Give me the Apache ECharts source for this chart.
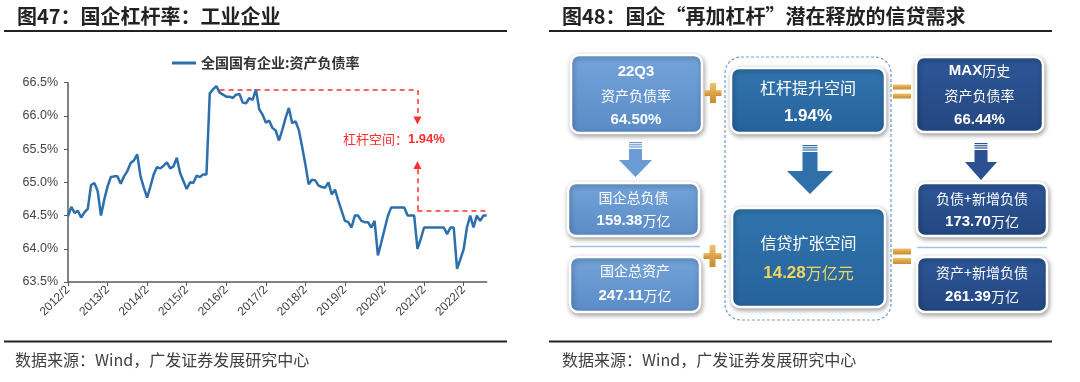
<!DOCTYPE html>
<html>
<head>
<meta charset="utf-8">
<script src="https://cdn.jsdelivr.net/npm/echarts@6/dist/echarts.min.js"></script>
<style>
html,body{margin:0;padding:0;background:#fff;}
#c{width:1080px;height:382px;}
</style>
</head>
<body>
<div id="c"></div>
<script>
// ---------- data ----------
const seriesName = '全国国有企业:资产负债率';
const startYear = 2012, startMonth = 2, pointCount = 128; // 2012/2 .. 2022/9 monthly
const debtRatio = [
64.49,64.63,64.54,64.57,64.47,64.55,64.60,64.96,64.99,64.87,64.50,64.74,
64.94,65.08,65.09,65.09,64.98,65.09,65.17,65.29,65.33,65.42,65.09,64.92,
64.77,64.94,65.12,65.23,65.21,65.25,65.30,65.21,65.24,65.37,65.14,65.02,
64.90,65.00,64.99,65.10,65.08,65.12,65.12,66.34,66.40,66.45,66.35,66.32,
66.29,66.29,66.27,66.32,66.33,66.20,66.19,66.27,66.24,66.40,66.10,66.02,
65.90,65.93,65.82,65.78,65.63,65.79,65.97,66.12,65.89,65.92,65.79,65.54,
65.27,64.97,65.04,65.03,64.95,64.93,64.92,65.00,64.82,64.89,64.72,64.57,
64.42,64.40,64.32,64.50,64.50,64.42,64.40,64.40,64.32,64.42,63.90,64.09,
64.29,64.49,64.62,64.62,64.62,64.62,64.62,64.50,64.50,64.50,64.00,64.15,
64.32,64.32,64.32,64.32,64.32,64.32,64.32,64.22,64.32,64.32,63.70,63.84,
63.99,64.32,64.50,64.32,64.50,64.42,64.50,64.50
];
const yTicks = [63.5, 66.5, 0.5]; // min, max, interval
// annotation (leverage space)
const peakLevel = 66.39, currentLevel = 64.58;
const annoStartIdx = 46, annoIdx = 106;
const arrowDownTip = 65.93, arrowUpTip = 65.26;
const annoLabel = '杠杆空间：', annoValue = '1.94%';

// right diagram texts
const rateNow = '64.50%', rateLabel = '资产负债率', quarter = '22Q3';
const leverSpaceLabel = '杠杆提升空间', leverSpace = '1.94%';
const maxLabel = '历史', maxRate = '66.44%';
const debtLabel = '国企总负债', totalDebt = '159.38';
const assetLabel = '国企总资产', totalAsset = '247.11';
const creditLabel = '信贷扩张空间', creditSpace = '14.28';
const newDebtLabel = '负债+新增负债', newDebt = '173.70';
const newAssetLabel = '资产+新增负债', newAsset = '261.39';
const unitWanYi = '万亿', unitWanYiYuan = '万亿元';

const title1 = '图47：国企杠杆率：工业企业';
const title2 = '图48：国企“再加杠杆”潜在释放的信贷需求';
const source = '数据来源：Wind，广发证券发展研究中心';

// ---------- build ----------
const months = [];
for (let i = 0; i < pointCount; i++) {
  const t = startMonth - 1 + i;
  months.push((startYear + Math.floor(t / 12)) + '/' + (t % 12 + 1));
}

const CJK = 'Noto Sans CJK SC';
const LAT = 'Liberation Sans';

const light = {type:'linear',x:0,y:0,x2:0,y2:1,colorStops:[{offset:0,color:'#74a4d9'},{offset:1,color:'#5a8bc6'}]};
const mid = {type:'linear',x:0,y:0,x2:0,y2:1,colorStops:[{offset:0,color:'#3175ae'},{offset:1,color:'#26629b'}]};
const navy = {type:'linear',x:0,y:0,x2:0,y2:1,colorStops:[{offset:0,color:'#2e5798'},{offset:1,color:'#23467f'}]};
const gold = {type:'linear',x:0,y:0,x2:0,y2:1,colorStops:[{offset:0,color:'#f0c46e'},{offset:0.5,color:'#dba24a'},{offset:1,color:'#c98d30'}]};

const rich = {
  c: {fontFamily: CJK, fontSize: 14, fill: '#fff'},
  cl: {fontFamily: CJK, fontSize: 16, fill: '#fff'},
  n: {fontFamily: LAT, fontWeight: 'bold', fontSize: 15, fill: '#fff'},
  nl: {fontFamily: LAT, fontWeight: 'bold', fontSize: 17, fill: '#fff'},
  y: {fontFamily: LAT, fontWeight: 'bold', fontSize: 17, fill: '#f3d55b'},
  yc: {fontFamily: CJK, fontSize: 16, fill: '#f3d55b'}
};

function box(x, y, w, h, fill) {
  return {type:'rect', shape:{x:x, y:y, width:w, height:h, r:8},
    style:{fill:fill, stroke:'#ffffff', lineWidth:2.5, shadowBlur:5, shadowOffsetX:1, shadowOffsetY:2, shadowColor:'rgba(0,0,0,0.35)'}};
}
function txt(x, y, text) {
  return {type:'text', x:x, y:y, style:{text:text, rich:rich, fill:'#fff', align:'center', verticalAlign:'middle'}};
}
function arrow(cx, top, shaftW, shaftEnd, headW, tip, fill) {
  const els = [];
  for (let k = 0; k < 3; k++) {
    els.push({type:'rect', shape:{x:cx - shaftW/2, y:top + k*2.2, width:shaftW, height:1.2}, style:{fill:fill}});
  }
  els.push({type:'polygon', shape:{points:[
    [cx - shaftW/2, top + 7], [cx + shaftW/2, top + 7], [cx + shaftW/2, shaftEnd],
    [cx + headW/2, shaftEnd], [cx, tip], [cx - headW/2, shaftEnd], [cx - shaftW/2, shaftEnd]
  ]}, style:{fill:fill}});
  return els;
}
function plus(cx, cy, w, h, t) {
  return [
    {type:'rect', shape:{x:cx - w/2, y:cy - t/2, width:w, height:t}, style:{fill:gold}},
    {type:'rect', shape:{x:cx - t/2, y:cy - h/2, width:t, height:h}, style:{fill:gold}}
  ];
}
function equals(cx, y1, y2, w, t) {
  return [
    {type:'rect', shape:{x:cx - w/2, y:y1, width:w, height:t}, style:{fill:gold}},
    {type:'rect', shape:{x:cx - w/2, y:y2, width:w, height:t}, style:{fill:gold}}
  ];
}

const graphics = [
  // titles
  {type:'text', x:17, y:16, style:{text:title1, fontFamily:CJK, fontWeight:'bold', fontSize:20, fill:'#222', verticalAlign:'middle'}},
  {type:'text', x:562, y:16, style:{text:title2, fontFamily:CJK, fontWeight:'bold', fontSize:20, fill:'#222', verticalAlign:'middle'}},
  {type:'line', shape:{x1:4, y1:31, x2:507, y2:31}, style:{stroke:'#222', lineWidth:2}},
  {type:'line', shape:{x1:549, y1:31, x2:1052, y2:31}, style:{stroke:'#222', lineWidth:2}},
  {type:'line', shape:{x1:4, y1:341.5, x2:507, y2:341.5}, style:{stroke:'#222', lineWidth:2}},
  {type:'line', shape:{x1:549, y1:341.5, x2:1052, y2:341.5}, style:{stroke:'#222', lineWidth:2}},
  {type:'text', x:15, y:360, style:{text:source, fontFamily:CJK, fontSize:16, fill:'#404040', verticalAlign:'middle'}},
  {type:'text', x:562, y:360, style:{text:source, fontFamily:CJK, fontSize:16, fill:'#404040', verticalAlign:'middle'}},
  // annotation label
  {type:'text', x:343, y:139, style:{text:'{a|' + annoLabel + '}{b|' + annoValue + '}', fill:'#ff3030', verticalAlign:'middle',
    rich:{a:{fontFamily:CJK, fontSize:13, fill:'#ff3030'}, b:{fontFamily:LAT, fontWeight:'bold', fontSize:13, fill:'#ff3030'}}}},
  // dashed container
  {type:'rect', shape:{x:725, y:57, width:166, height:263, r:16}, style:{fill:'none', stroke:'#6f9fd6', lineWidth:1.2, lineDash:[3,2]}},
  // boxes
  box(571, 55, 131, 78, light),
  box(731, 68, 154, 65, mid),
  box(916, 57, 127, 75, navy),
  box(568, 183, 131, 53, light),
  box(570, 257, 130, 55, light),
  box(732, 208, 153, 99, mid),
  box(917, 183, 130, 53, navy),
  box(917, 257, 130, 55, navy),
  // separators
  {type:'line', shape:{x1:570, y1:246.5, x2:700, y2:246.5}, style:{stroke:'#a3c1e6', lineWidth:1.5}},
  {type:'line', shape:{x1:917, y1:247.5, x2:1047, y2:247.5}, style:{stroke:'#a3c1e6', lineWidth:1.5}},
  // texts
  txt(636, 72, '{n|' + quarter + '}'),
  txt(636, 96, '{c|' + rateLabel + '}'),
  txt(636, 120, '{n|' + rateNow + '}'),
  txt(808, 88, '{cl|' + leverSpaceLabel + '}'),
  txt(808, 116, '{nl|' + leverSpace + '}'),
  txt(979.5, 71, '{n|MAX}{c|' + maxLabel + '}'),
  txt(979.5, 96, '{c|' + rateLabel + '}'),
  txt(979.5, 120, '{n|' + maxRate + '}'),
  txt(633.5, 198, '{c|' + debtLabel + '}'),
  txt(633.5, 221, '{n|' + totalDebt + '}{c|' + unitWanYi + '}'),
  txt(635, 271, '{c|' + assetLabel + '}'),
  txt(635, 296, '{n|' + totalAsset + '}{c|' + unitWanYi + '}'),
  txt(808.5, 243, '{cl|' + creditLabel + '}'),
  txt(808.5, 273, '{y|' + creditSpace + '}{yc|' + unitWanYiYuan + '}'),
  txt(982, 199, '{c|' + newDebtLabel + '}'),
  txt(982, 222, '{n|' + newDebt + '}{c|' + unitWanYi + '}'),
  txt(982, 273, '{c|' + newAssetLabel + '}'),
  txt(982, 297, '{n|' + newAsset + '}{c|' + unitWanYi + '}')
].concat(
  arrow(635.5, 142, 13, 160, 33, 177, '#6a9bd3'),
  arrow(810, 145, 15, 171, 46, 194, '#2f70aa'),
  arrow(981, 143, 13, 162, 32, 180, '#2b5192'),
  plus(713, 93, 17, 20, 6),
  plus(712.5, 256, 18, 22, 6),
  equals(902, 84.5, 93.5, 18, 5),
  equals(902, 248.5, 258, 18, 6)
);

const chart = echarts.init(document.getElementById('c'), null, {renderer:'canvas'});
chart.setOption({
  animation: false,
  backgroundColor: '#ffffff',
  legend: {
    data: [seriesName], left: 167, top: 51, icon: 'rect', itemWidth: 24, itemHeight: 3,
    textStyle: {fontFamily: CJK, fontSize: 14, fontWeight: 'bold', color: '#333'}
  },
  grid: {left: 68, top: 82.7, right: 593.3, bottom: 100, containLabel: false},
  xAxis: {
    type: 'category', data: months, boundaryGap: false,
    axisLine: {lineStyle: {color: '#595959', width: 1.5}},
    axisTick: {interval: 11, length: 4, lineStyle: {color: '#595959'}},
    axisLabel: {interval: 11, rotate: 45, fontSize: 12, fontFamily: LAT, color: '#444', margin: 6}
  },
  yAxis: {
    type: 'value', min: yTicks[0], max: yTicks[1], interval: yTicks[2],
    axisLine: {show: true, lineStyle: {color: '#595959', width: 1.5}},
    axisTick: {show: true, length: 4, lineStyle: {color: '#595959'}},
    splitLine: {show: false},
    axisLabel: {fontSize: 12.5, fontFamily: LAT, color: '#444', margin: 10, formatter: v => v.toFixed(1) + '%'}
  },
  series: [{
    name: seriesName, type: 'line', data: debtRatio, showSymbol: false, symbol: 'none',
    lineStyle: {width: 2.5, color: '#2c6fac'}, itemStyle: {color: '#2c6fac'},
    markLine: {
      silent: true, symbol: ['none', 'none'], animation: false,
      label: {show: false},
      lineStyle: {color: '#ff3030', type: [5, 4], width: 1.5},
      data: [
        [{coord: [annoStartIdx, peakLevel]}, {coord: [annoIdx, peakLevel]}],
        [{coord: [annoIdx, peakLevel]}, {coord: [annoIdx, arrowDownTip], symbol: 'triangle', symbolSize: [8, 8]}],
        [{coord: [annoIdx, currentLevel]}, {coord: [annoIdx, arrowUpTip], symbol: 'triangle', symbolSize: [8, 8]}],
        [{coord: [annoIdx, currentLevel]}, {coord: [pointCount - 1, currentLevel]}]
      ]
    }
  }],
  graphic: graphics
});
</script>
</body>
</html>
